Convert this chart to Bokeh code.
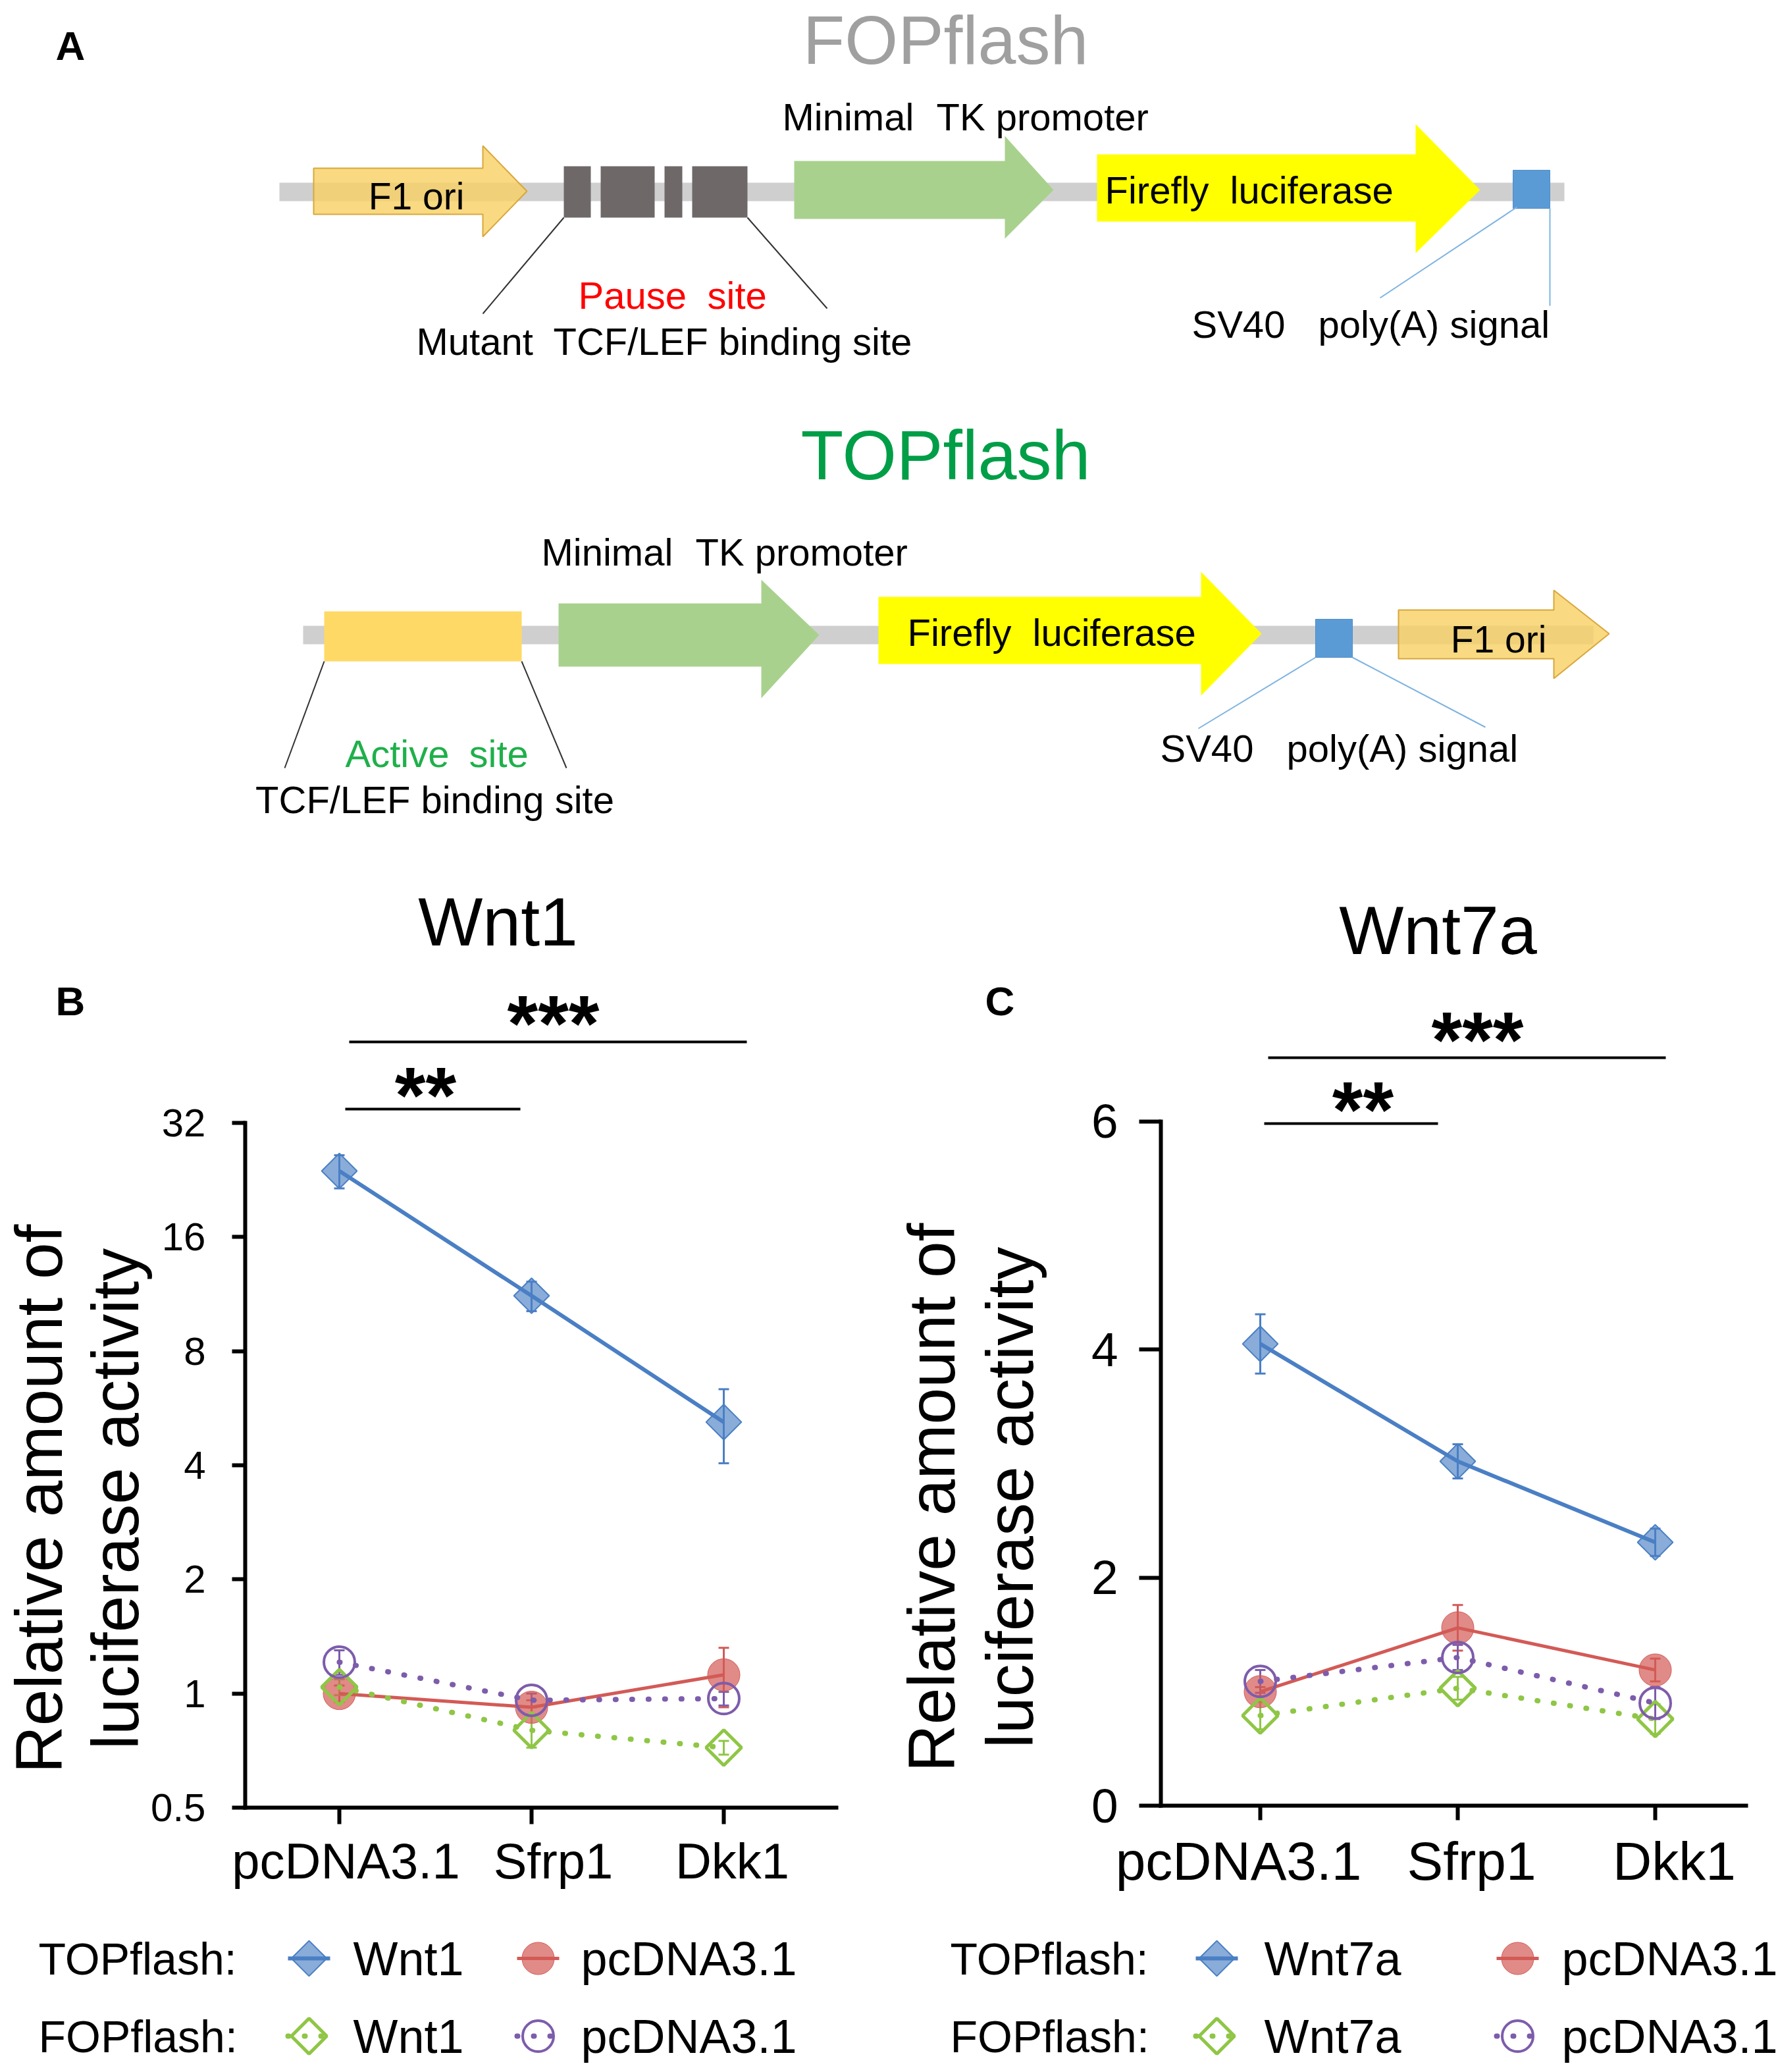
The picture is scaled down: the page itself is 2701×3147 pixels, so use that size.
import math
from bokeh.plotting import figure
from bokeh.models import Range1d, LinearAxis, LogAxis, FixedTicker, ColumnDataSource, Whisker, TeeHead
from bokeh.layouts import column, row
from bokeh.embed import file_html
from bokeh.resources import INLINE
from bokeh.core.properties import value

FONT = "Liberation Sans"

# ---------------- data ----------------
categories = ["pcDNA3.1", "Sfrp1", "Dkk1"]
cat_pos = [0, 1, 2]

# Panel B (Wnt1), log2 axis
b_top_wnt1 = [23.9, 11.2, 5.2]
b_top_wnt1_err = [2.4, 1.0, 1.15]
b_top_pcdna = [1.0, 0.92, 1.12]
b_top_pcdna_err = [0.05, 0.04, 0.20]
b_fop_wnt1 = [1.04, 0.80, 0.72]
b_fop_wnt1_err = [0.05, 0.08, 0.03]
b_fop_pcdna = [1.21, 0.96, 0.97]
b_fop_pcdna_err = [0.09, 0.04, 0.04]
b_yticks = [0.5, 1, 2, 4, 8, 16, 32]
b_ytick_labels = ["0.5", "1", "2", "4", "8", "16", "32"]

# Panel C (Wnt7a), linear axis
c_top_wnt7a = [4.05, 3.02, 2.31]
c_top_wnt7a_err = [0.26, 0.15, 0.12]
c_top_pcdna = [1.00, 1.56, 1.19]
c_top_pcdna_err = [0.04, 0.20, 0.10]
c_fop_wnt7a = [0.79, 1.03, 0.76]
c_fop_wnt7a_err = [0.12, 0.10, 0.13]
c_fop_pcdna = [1.09, 1.30, 0.90]
c_fop_pcdna_err = [0.10, 0.11, 0.14]
c_yticks = [0, 2, 4, 6]
c_ytick_labels = ["0", "2", "4", "6"]

# ---------------- colours ----------------
BLUE = "#4a7fc4"
RED = "#d35a56"
GREEN = "#8fc645"
PURPLE = "#7d5cab"
GRAYBAR = "#d0cfcf"
DARKBOX = "#6e6868"
TKGREEN = "#a9d18e"
LUCY = "#ffff00"
SVBLUE = "#5b9bd5"
ORIFILL = "#f8cf62"
ORILINE = "#d8a73c"
ACTIVE = "#ffd966"


def txt(p, x, y, s, size, color="black", align="left", bold=False, angle=0.0):
    # y is the vertical centre of the capital letters
    p.text(x=[x], y=[y], text=[s], text_font=value(FONT), text_font_size=f"{size}px",
           text_color=color, text_align=align, text_baseline="alphabetic",
           text_font_style="bold" if bold else "normal", angle=angle)


def words(p, pieces, y, size, color="black"):
    for x, s in pieces:
        txt(p, x, y, s, size, color=color)


def px_fig(width, height, x0, y0):
    p = figure(width=width, height=height, x_range=Range1d(x0, x0 + width),
               y_range=Range1d(y0 + height, y0), output_backend="svg", toolbar_location=None,
               x_axis_location=None, y_axis_location=None, title=None, min_border=0)
    p.outline_line_color = None
    p.grid.visible = False
    return p


def arrow(p, spec, fill, line, alpha=1.0):
    bl, hs, bt, bb, ht, hb, tx, ty = spec
    xs = [bl, hs, hs, tx, hs, hs, bl]
    ys = [bt, bt, ht, ty, hb, bb, bb]
    p.patch(xs, ys, fill_color=fill, fill_alpha=alpha, line_color=line, line_width=2)


# ---------------- panel A (diagram, page pixel coordinates) ----------------
WA, HA = 2701, 1300
pa = px_fig(WA, HA, 0, 0)

# FOPflash construct
fop_backbone = (424, 2376, 277, 305)
fop_f1ori = (476, 733, 255, 325, 221, 359, 800, 290)
fop_boxes_left = [856, 912, 1009, 1051]
fop_boxes_right = [897, 994, 1036, 1135]
fop_boxes_tb = (252, 330)
fop_tk = (1206, 1526, 244, 332, 206, 362, 1600, 288)
fop_luc = (1666, 2150, 234, 336, 188, 384, 2248, 288)
fop_sv40 = (2298, 2354, 258, 316)

# TOPflash construct
top_backbone = (460, 2420, 950, 978)
top_site = (492, 792, 928, 1004)
top_tk = (848, 1156, 916, 1012, 880, 1060, 1244, 964)
top_luc = (1334, 1824, 906, 1008, 868, 1056, 1916, 962)
top_sv40 = (1998, 2054, 940, 998)
top_f1ori = (2124, 2360, 926, 1000, 896, 1030, 2444, 962)

for l, r, t, b in (fop_backbone, top_backbone):
    pa.quad(left=[l], right=[r], top=[t], bottom=[b], fill_color=GRAYBAR, line_color=None)

arrow(pa, fop_f1ori, ORIFILL, ORILINE, 0.8)
pa.quad(left=fop_boxes_left, right=fop_boxes_right, top=[fop_boxes_tb[0]] * 4,
        bottom=[fop_boxes_tb[1]] * 4, fill_color=DARKBOX, line_color=None)
arrow(pa, fop_tk, TKGREEN, None)
arrow(pa, fop_luc, LUCY, None)
pa.quad(left=[fop_sv40[0]], right=[fop_sv40[1]], top=[fop_sv40[2]], bottom=[fop_sv40[3]],
        fill_color=SVBLUE, line_color="#4f8dc9", line_width=1)
pa.segment(x0=[856, 1135], y0=[330, 330], x1=[733, 1256], y1=[476, 468], line_color="#333333", line_width=2)
pa.segment(x0=[2304, 2354], y0=[314, 316], x1=[2096, 2354], y1=[452, 464], line_color="#7eb3e0", line_width=2)

pa.quad(left=[top_site[0]], right=[top_site[1]], top=[top_site[2]], bottom=[top_site[3]],
        fill_color=ACTIVE, line_color=None)
arrow(pa, top_tk, TKGREEN, None)
arrow(pa, top_luc, LUCY, None)
pa.quad(left=[top_sv40[0]], right=[top_sv40[1]], top=[top_sv40[2]], bottom=[top_sv40[3]],
        fill_color=SVBLUE, line_color="#4f8dc9", line_width=1)
arrow(pa, top_f1ori, ORIFILL, ORILINE, 0.8)
pa.segment(x0=[492, 792], y0=[1004, 1004], x1=[432, 860], y1=[1166, 1166], line_color="#333333", line_width=2)
pa.segment(x0=[1998, 2054], y0=[998, 998], x1=[1820, 2256], y1=[1106, 1104], line_color="#7eb3e0", line_width=2)

txt(pa, 84, 69, "A", 62, bold=True)
txt(pa, 1436, 60, "FOPflash", 104, color="#a0a0a0", align="center")
words(pa, [(1188, "Minimal"), (1422, "TK promoter")], 177, 58)
txt(pa, 632, 297, "F1 ori", 57, align="center")
words(pa, [(1678, "Firefly"), (1868, "luciferase")], 288, 58)
words(pa, [(878, "Pause"), (1074, "site")], 448, 58, color="#ff0000")
words(pa, [(632, "Mutant"), (840, "TCF/LEF binding site")], 518, 58)
words(pa, [(1810, "SV40"), (2002, "poly(A)"), (2202, "signal")], 492, 58)

txt(pa, 1436, 690, "TOPflash", 106, color="#009e47", align="center")
words(pa, [(822, "Minimal"), (1056, "TK promoter")], 838, 58)
words(pa, [(1378, "Firefly"), (1568, "luciferase")], 960, 58)
words(pa, [(1762, "SV40"), (1954, "poly(A)"), (2154, "signal")], 1136, 58)
txt(pa, 2276, 970, "F1 ori", 57, align="center")
words(pa, [(524, "Active"), (712, "site")], 1144, 58, color="#1fb04a")
txt(pa, 660, 1214, "TCF/LEF binding site", 58, align="center")


# ---------------- chart helpers ----------------
def marker(p, src, kind):
    if kind == "blue":
        p.scatter("x", "y", source=src, marker="square", angle=math.pi / 4, size=38,
                  fill_color=BLUE, fill_alpha=0.65, line_color=BLUE, line_width=2)
    elif kind == "red":
        p.scatter("x", "y", source=src, marker="circle", size=49,
                  fill_color=RED, fill_alpha=0.7, line_color=RED, line_width=1)
    elif kind == "green":
        p.scatter("x", "y", source=src, marker="square", angle=math.pi / 4, size=38,
                  fill_color=None, line_color=GREEN, line_width=5)
    else:
        p.scatter("x", "y", source=src, marker="circle", size=47,
                  fill_color=None, line_color=PURPLE, line_width=4)


def series(p, y, err, kind):
    lo = [a - b for a, b in zip(y, err)]
    hi = [a + b for a, b in zip(y, err)]
    src = ColumnDataSource(dict(x=cat_pos, y=y, lo=lo, hi=hi))
    col = {"blue": BLUE, "red": RED, "green": GREEN, "purple": PURPLE}[kind]
    if kind == "blue":
        p.line("x", "y", source=src, line_color=col, line_width=6)
    elif kind == "red":
        p.line("x", "y", source=src, line_color=col, line_width=5)
    else:
        p.line("x", "y", source=src, line_color=col, line_width=8, line_dash="1 24", line_cap="round")
    p.add_layout(Whisker(source=src, base="x", upper="hi", lower="lo", dimension="height",
                         line_color=col, line_width=3,
                         upper_head=TeeHead(size=16, line_color=col, line_width=3),
                         lower_head=TeeHead(size=16, line_color=col, line_width=3)))
    marker(p, src, kind)


def style_axis(ax, size, tick_out, standoff):
    ax.axis_line_width = 6
    ax.axis_line_color = "black"
    ax.axis_line_cap = "square"
    ax.major_tick_line_width = 6
    ax.major_tick_line_color = "black"
    ax.major_tick_in = 0
    ax.major_tick_out = tick_out
    ax.minor_tick_line_color = None
    ax.major_label_text_font = FONT
    ax.major_label_text_font_size = f"{size}px"
    ax.major_label_text_color = "black"
    ax.major_label_standoff = standoff


def chart_fig(width, height, xr, yr, ytype):
    p = figure(width=width, height=height, x_range=xr, y_range=yr, y_axis_type=ytype,
               output_backend="svg", toolbar_location=None, x_axis_location=None,
               y_axis_location=None, title=None, min_border=0)
    p.outline_line_color = None
    p.grid.visible = False
    return p


def category_labels(p, xs, y, size):
    # category names, drawn as text under the axis ticks (offset as in the original)
    for x, c in zip(xs, categories):
        txt(p, x, y, c, size, align="center")


# ---------------- panel B ----------------
B_X0, B_DX = 515.0, 292.0          # page px of first category, px per category
B_Y05, B_PPD = 2745.0, 173.33      # page px of y=0.5, px per doubling


def bx(px):
    return (px - B_X0) / B_DX


def by(py):
    return 0.5 * 2 ** ((B_Y05 - py) / B_PPD)


WB, HB = 1350, 1600
pb = chart_fig(WB, HB, Range1d(bx(0), bx(WB)), Range1d(by(1300 + HB), by(1300)), "log")
yb = LogAxis(ticker=FixedTicker(ticks=b_yticks),
             major_label_overrides={t: s for t, s in zip(b_yticks, b_ytick_labels)},
             fixed_location=bx(372), bounds=(b_yticks[0], b_yticks[-1]))
style_axis(yb, 60, 20, 40)
pb.add_layout(yb, "left")
xbax = LinearAxis(ticker=FixedTicker(ticks=cat_pos),
                  major_label_overrides={i: "" for i in cat_pos},
                  fixed_location=b_yticks[0], bounds=(bx(372), bx(1270)))
style_axis(xbax, 74, 25, 14)
pb.add_layout(xbax, "below")
category_labels(pb, [bx(525), bx(840), bx(1112)], by(2826), 76)

series(pb, b_top_pcdna, b_top_pcdna_err, "red")
series(pb, b_fop_wnt1, b_fop_wnt1_err, "green")
series(pb, b_fop_pcdna, b_fop_pcdna_err, "purple")
series(pb, b_top_wnt1, b_top_wnt1_err, "blue")

txt(pb, bx(756), by(1399), "Wnt1", 104, align="center")
txt(pb, bx(84), by(1520), "B", 62, bold=True)
txt(pb, bx(58), by(2276), "Relative amount of", 100, align="center", angle=math.pi / 2)
txt(pb, bx(174), by(2276), "luciferase activity", 100, align="center", angle=math.pi / 2)
pb.segment(x0=[bx(530), bx(524)], y0=[by(1582), by(1684)], x1=[bx(1134), bx(790)], y1=[by(1582), by(1684)],
           line_color="black", line_width=4)
txt(pb, bx(840), by(1553), "***", 120, align="center", bold=True)
txt(pb, bx(646), by(1662), "**", 120, align="center", bold=True)

# ---------------- panel C ----------------
C_X0, C_DX = 1914.0, 300.0
C_Y0, C_PPU = 2742.0, 173.17


def cx(px):
    return (px - C_X0) / C_DX


def cy(py):
    return (C_Y0 - py) / C_PPU


WC, HC = 1351, 1600
pc = chart_fig(WC, HC, Range1d(cx(1350), cx(1350 + WC)), Range1d(cy(1300 + HC), cy(1300)), "linear")
yc = LinearAxis(ticker=FixedTicker(ticks=c_yticks),
                major_label_overrides={t: s for t, s in zip(c_yticks, c_ytick_labels)},
                fixed_location=cx(1763), bounds=(c_yticks[0], c_yticks[-1]))
style_axis(yc, 73, 33, 32)
pc.add_layout(yc, "left")
xcax = LinearAxis(ticker=FixedTicker(ticks=cat_pos),
                  major_label_overrides={i: "" for i in cat_pos},
                  fixed_location=c_yticks[0], bounds=(cx(1763), cx(2652)))
style_axis(xcax, 82, 22, 18)
pc.add_layout(xcax, "below")
category_labels(pc, [cx(1881), cx(2235), cx(2543)], cy(2826), 82)

series(pc, c_top_pcdna, c_top_pcdna_err, "red")
series(pc, c_fop_wnt7a, c_fop_wnt7a_err, "green")
series(pc, c_fop_pcdna, c_fop_pcdna_err, "purple")
series(pc, c_top_wnt7a, c_top_wnt7a_err, "blue")

txt(pc, cx(2184), cy(1412), "Wnt7a", 104, align="center")
txt(pc, cx(1496), cy(1520), "C", 62, bold=True)
txt(pc, cx(1414), cy(2274), "Relative amount of", 100, align="center", angle=math.pi / 2)
txt(pc, cx(1533), cy(2274), "luciferase activity", 100, align="center", angle=math.pi / 2)
pc.segment(x0=[cx(1926), cx(1920)], y0=[cy(1606), cy(1706)], x1=[cx(2530), cx(2184)], y1=[cy(1606), cy(1706)],
           line_color="black", line_width=4)
txt(pc, cx(2244), cy(1578), "***", 120, align="center", bold=True)
txt(pc, cx(2070), cy(1684), "**", 120, align="center", bold=True)


# ---------------- legends ----------------
def legend_fig(x0, width, head_x, m1, l1, m2, l2, name):
    p = px_fig(width, 247, x0, 2900)
    rows = [2974, 3092]
    for yy, head in zip(rows, ["TOPflash:", "FOPflash:"]):
        txt(p, head_x, yy, head, 68)
    p.line([m1 - 32, m1 + 32], [rows[0], rows[0]], line_color=BLUE, line_width=6)
    marker(p, ColumnDataSource(dict(x=[m1], y=[rows[0]])), "blue")
    txt(p, l1, rows[0], name, 72)
    p.line([m2 - 32, m2 + 32], [rows[0], rows[0]], line_color=RED, line_width=5)
    marker(p, ColumnDataSource(dict(x=[m2], y=[rows[0]])), "red")
    txt(p, l2, rows[0], "pcDNA3.1", 72)
    p.line([m1 - 32, m1 + 32], [rows[1], rows[1]], line_color=GREEN, line_width=8, line_dash="1 24",
           line_cap="round")
    marker(p, ColumnDataSource(dict(x=[m1], y=[rows[1]])), "green")
    txt(p, l1, rows[1], name, 72)
    p.line([m2 - 32, m2 + 32], [rows[1], rows[1]], line_color=PURPLE, line_width=8, line_dash="1 24",
           line_cap="round")
    marker(p, ColumnDataSource(dict(x=[m2], y=[rows[1]])), "purple")
    txt(p, l2, rows[1], "pcDNA3.1", 72)
    return p


lb = legend_fig(0, WB, 58, 469, 536, 817, 882, "Wnt1")
lc = legend_fig(1350, WC, 1443, 1848, 1920, 2305, 2372, "Wnt7a")

layout = column(pa, row(column(pb, lb), column(pc, lc)))
open("out.html", "w").write(file_html(layout, INLINE))
